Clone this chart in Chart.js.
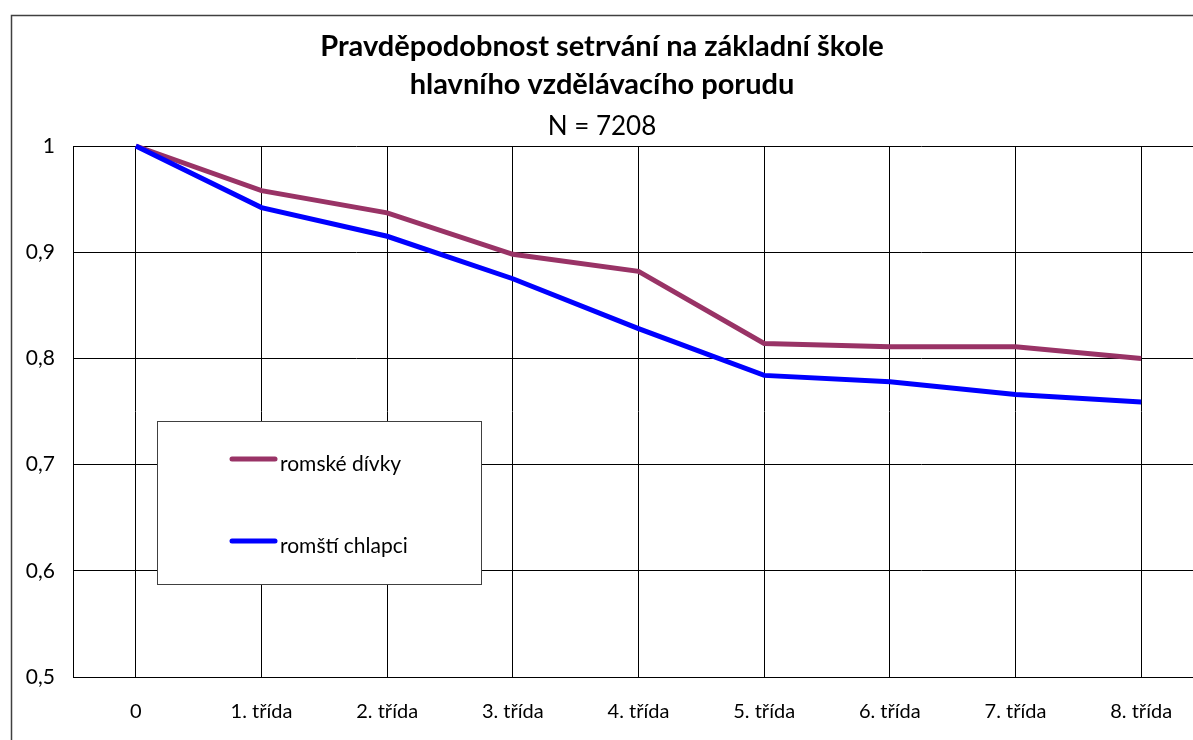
<!DOCTYPE html>
<html>
<head>
<meta charset="utf-8">
<script src="https://cdn.jsdelivr.net/npm/chart.js@4"></script>
<style>
    html, body { margin: 0; padding: 0; background: #fff; overflow: hidden; }
    #wrap { position: relative; width: 1230px; height: 740px; }
</style>
</head>
<body>
<div id="wrap"><canvas id="chartSetrvani"></canvas></div>
<script>
// Data
const kategorie = ['0', '1. třída', '2. třída', '3. třída', '4. třída', '5. třída', '6. třída', '7. třída', '8. třída'];
const romskeDivky = [1, 0.958, 0.937, 0.898, 0.882, 0.814, 0.811, 0.811, 0.800];
const romstiChlapci = [1, 0.942, 0.915, 0.875, 0.828, 0.784, 0.778, 0.766, 0.759];
const titulek = ['Pravděpodobnost setrvání na základní škole', 'hlavního vzdělávacího porudu'];
const podtitulek = 'N = 7208';

const FONT = 'Lato, "Noto Sans", sans-serif';

// Rámeček kolem celého grafu
const ramecekPlugin = {
    id: 'ramecek',
    beforeDraw(chart) {
        const ctx = chart.ctx;
        ctx.save();
        ctx.strokeStyle = '#404040';
        ctx.lineWidth = 1.5;
        ctx.strokeRect(11.5, 15.5, chart.width + 50, chart.height + 50);
        ctx.restore();
    }
};

// Legenda v rámečku uvnitř grafu (jako v Excelu)
const legendaPlugin = {
    id: 'legendaBox',
    afterDatasetsDraw(chart) {
        const ctx = chart.ctx;
        const x = 157.5, y = 421.5, w = 324, h = 163;
        ctx.save();
        ctx.fillStyle = '#fff';
        ctx.fillRect(x, y, w, h);
        ctx.strokeStyle = '#404040';
        ctx.lineWidth = 1;
        ctx.strokeRect(x, y, w, h);

        const radky = [459, 541];
        chart.data.datasets.forEach((ds, i) => {
            const ly = radky[i];
            ctx.strokeStyle = ds.borderColor;
            ctx.lineWidth = 5;
            ctx.lineCap = 'round';
            ctx.beginPath();
            ctx.moveTo(232, ly);
            ctx.lineTo(275, ly);
            ctx.stroke();
            ctx.fillStyle = '#000';
            ctx.font = '21px ' + FONT;
            ctx.textBaseline = 'alphabetic';
            ctx.textAlign = 'left';
            ctx.fillText(ds.label, 280, ly + 12);
        });
        ctx.restore();
    }
};

const chartSetrvani = new Chart(document.getElementById('chartSetrvani').getContext('2d'), {
    type: 'line',
    data: {
        labels: kategorie,
        datasets: [
            {
                label: 'romské dívky',
                data: romskeDivky,
                borderColor: '#993366',
                backgroundColor: '#993366',
                borderWidth: 5,
                pointRadius: 0,
                tension: 0,
                clip: false,
                order: 2
            },
            {
                label: 'romští chlapci',
                data: romstiChlapci,
                borderColor: '#0000ff',
                backgroundColor: '#0000ff',
                borderWidth: 5,
                pointRadius: 0,
                tension: 0,
                clip: false,
                order: 1
            }
        ]
    },
    options: {
        responsive: true,
        maintainAspectRatio: false,
        animation: false,
        layout: { padding: { left: 0, right: 26, top: 0, bottom: 0 } },
        plugins: {
            legend: { display: false },
            tooltip: { enabled: false },
            title: {
                display: true,
                text: titulek,
                color: '#000',
                font: { family: FONT, size: 29, weight: 'bold', lineHeight: '38px' },
                padding: { top: 28, bottom: 0 }
            },
            subtitle: {
                display: true,
                text: podtitulek,
                color: '#000',
                font: { family: FONT, size: 26, weight: 'normal', lineHeight: '30px' },
                padding: { top: 8, bottom: 4 }
            }
        },
        scales: {
            x: {
                offset: true,
                grid: { offset: false, color: '#000', lineWidth: 1, drawTicks: false },
                border: { display: true, color: '#000', width: 1 },
                ticks: { color: '#000', font: { family: FONT, size: 20 }, padding: 23, maxRotation: 0 },
                afterFit(scale) { scale.height = 63; }
            },
            y: {
                min: 0.5,
                max: 1,
                grid: { color: '#000', lineWidth: 1, drawTicks: false },
                border: { display: true, color: '#000', width: 1 },
                ticks: {
                    stepSize: 0.1,
                    color: '#000',
                    padding: 18,
                    font: { family: FONT, size: 21 },
                    callback: v => String(Math.round(v * 10) / 10).replace('.', ',')
                },
                afterFit(scale) { scale.width = 73; }
            }
        }
    },
    plugins: [ramecekPlugin, legendaPlugin]
});
</script>
</body>
</html>
